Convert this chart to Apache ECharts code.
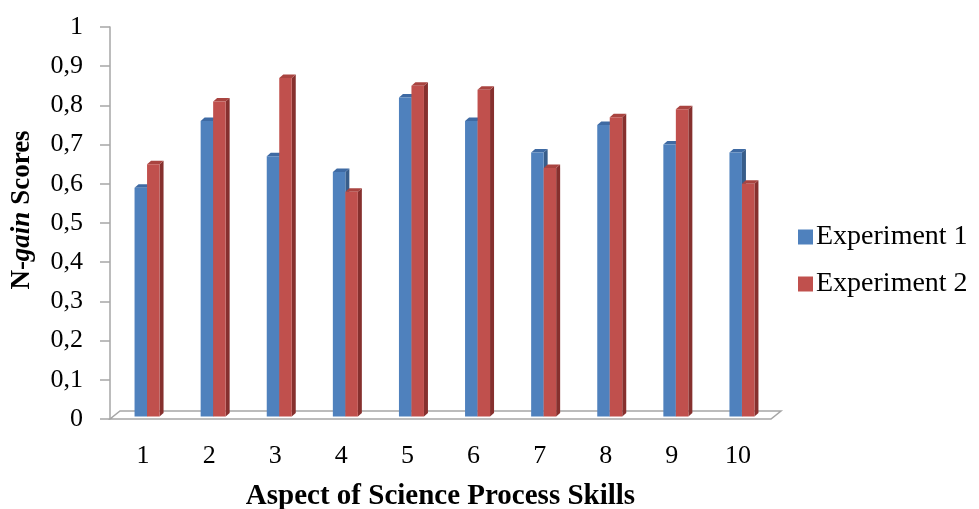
<!DOCTYPE html>
<html>
<head>
<meta charset="utf-8">
<script src="https://cdn.jsdelivr.net/npm/echarts@6/dist/echarts.min.js"></script>
<style>html,body{margin:0;padding:0;background:#fff;}#c{width:979px;height:509px;}</style>
</head>
<body>
<div id="c"></div>
<script>
const categories = ['1','2','3','4','5','6','7','8','9','10'];
const experiment1 = [0.59, 0.76, 0.67, 0.63, 0.82, 0.76, 0.68, 0.75, 0.70, 0.68];
const experiment2 = [0.65, 0.81, 0.87, 0.58, 0.85, 0.84, 0.64, 0.77, 0.79, 0.60];
const seriesNames = ['Experiment 1', 'Experiment 2'];

const FONT = 'Liberation Serif';
const palette = [
  {front: '#4F81BD', side: '#385D8A', top: '#3E6AA3'},
  {front: '#C0504D', side: '#86302E', top: '#A94440'}
];

function barRenderer(k) {
  return function (params, api) {
    const cat = api.value(0), v = api.value(1);
    const t = api.coord([cat, v]);
    const b = api.coord([cat, 0]);
    const bw = 12.5, dx = 4, dy = 3.5;
    const cx = t[0] + 4;
    const x0 = k === 0 ? cx - bw : cx;
    const x1 = x0 + bw;
    const yT = t[1], yB = b[1] - 2.5;
    const c = palette[k];
    return {
      type: 'group',
      children: [
        {type: 'polygon', shape: {points: [[x1, yB], [x1 + dx, yB - dy], [x1 + dx, yT - dy], [x1, yT]]}, style: {fill: c.side}},
        {type: 'polygon', shape: {points: [[x0, yT], [x0 + dx, yT - dy], [x1 + dx, yT - dy], [x1, yT]]}, style: {fill: c.top}},
        {type: 'rect', shape: {x: x0, y: yT, width: bw, height: yB - yT}, style: {fill: c.front}}
      ]
    };
  };
}

function floorRenderer(params, api) {
  const cs = params.coordSys;
  const xl = cs.x, xr = cs.x + cs.width, yf = cs.y + cs.height;
  const ddx = 10, ddy = 8;
  return {
    type: 'polygon',
    shape: {points: [[xl, yf], [xr, yf], [xr + ddx, yf - ddy], [xl + ddx, yf - ddy]]},
    style: {fill: '#ffffff', stroke: '#A6A6A6', lineWidth: 1.5}
  };
}

const chart = echarts.init(document.getElementById('c'), null, {renderer: 'canvas'});
chart.setOption({
  animation: false,
  backgroundColor: '#ffffff',
  grid: {left: 110, right: 208, top: 27, bottom: 90, containLabel: false, outerBoundsMode: 'none'},
  legend: {
    data: seriesNames,
    orient: 'vertical',
    left: 793,
    top: 218,
    itemWidth: 15,
    itemHeight: 15,
    itemGap: 19,
    icon: 'rect',
    textStyle: {fontFamily: FONT, fontSize: 28, color: '#000', padding: [0, 0, 0, -2]}
  },
  xAxis: {
    type: 'category',
    data: categories,
    axisLine: {show: false},
    axisTick: {show: false},
    axisLabel: {fontFamily: FONT, fontSize: 26, color: '#000', margin: 24},
    name: 'Aspect of Science Process Skills',
    nameLocation: 'middle',
    nameGap: 63,
    nameTextStyle: {fontFamily: FONT, fontSize: 29, fontWeight: 'bold', color: '#000'}
  },
  yAxis: {
    type: 'value',
    min: 0,
    max: 1,
    interval: 0.1,
    axisLine: {show: true, lineStyle: {color: '#A6A6A6', width: 1.5}},
    axisTick: {show: true, length: 10, lineStyle: {color: '#A6A6A6', width: 1.5}},
    splitLine: {show: false},
    axisLabel: {
      fontFamily: FONT, fontSize: 26, color: '#000', margin: 27,
      formatter: function (v) {
        if (v === 0) return '0';
        if (Math.abs(v - 1) < 1e-9) return '1';
        return v.toFixed(1).replace('.', ',');
      }
    },
    name: '{b|N-}{i|gain}{b| Scores}',
    nameLocation: 'middle',
    nameGap: 74,
    nameRotate: 90,
    nameTextStyle: {
      padding: [0, 0, 0, 26],
      rich: {
        b: {fontFamily: FONT, fontSize: 27, fontWeight: 'bold', color: '#000'},
        i: {fontFamily: FONT, fontSize: 27, fontWeight: 'bold', fontStyle: 'italic', color: '#000'}
      }
    }
  },
  series: [
    {
      type: 'custom', name: 'floor', renderItem: floorRenderer, data: [[0, 0]], z: 1, silent: true
    },
    {
      type: 'custom', name: seriesNames[0], renderItem: barRenderer(0),
      itemStyle: {color: palette[0].front},
      data: experiment1.map((v, i) => [i, v]), z: 2
    },
    {
      type: 'custom', name: seriesNames[1], renderItem: barRenderer(1),
      itemStyle: {color: palette[1].front},
      data: experiment2.map((v, i) => [i, v]), z: 3
    }
  ]
});
</script>
</body>
</html>
